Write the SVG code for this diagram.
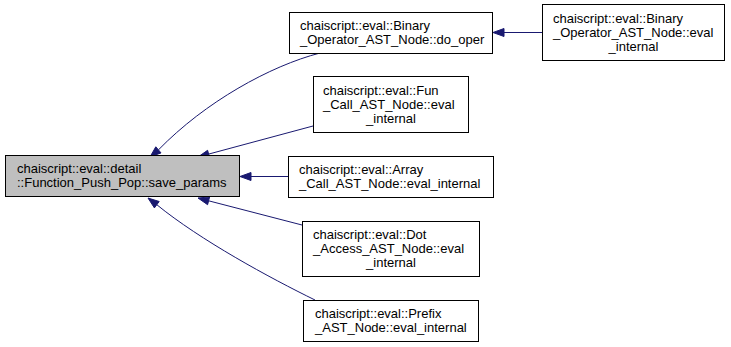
<svg xmlns="http://www.w3.org/2000/svg" width="731" height="347" viewBox="0 0 731 347">
  <style>
    .box { fill: #ffffff; stroke: #000000; stroke-width: 1; }
    .focus { fill: #bfbfbf; }
    text { font-family: "Liberation Sans", Arial, Helvetica, sans-serif; font-size: 13px; fill: #000000; }
    .mid { text-anchor: middle; }
    .edge { fill: none; stroke: #191970; stroke-width: 1; }
    .head { fill: #191970; stroke: #191970; stroke-width: 1; }
  </style>
  <rect width="731" height="347" fill="#ffffff"/>

  <!-- caller edges -->
  <g id="edges">
    <path class="edge" d="M320,53 C270,66 205,102 158.4,149.9"/>
    <polygon class="head" points="150,157 161,152.9 155.8,146.8"/>

    <path class="edge" d="M313,126 L208.6,154.1"/>
    <polygon class="head" points="198,157 209.7,158 207.6,150.3"/>

    <path class="edge" d="M288,176.5 L251,176.5"/>
    <polygon class="head" points="240,176.5 251,172.5 251,180.5"/>

    <path class="edge" d="M302,225 L208.6,200.8"/>
    <polygon class="head" points="198,198 207.6,204.7 209.6,196.9"/>

    <path class="edge" d="M315,300 C270,278 200,240 156.8,204.7"/>
    <polygon class="head" points="148,198 154.4,207.9 159.2,201.5"/>

    <path class="edge" d="M542,32.5 L504,32.5"/>
    <polygon class="head" points="493,32.5 504,28.5 504,36.5"/>
  </g>

  <g id="save_params">
    <rect class="box focus" x="5.5" y="155.5" width="234" height="41"/>
    <text x="17" y="173">chaiscript::eval::detail</text>
    <text x="17" y="187">::Function_Push_Pop::save_params</text>
  </g>

  <g id="do_oper">
    <rect class="box" x="289.5" y="12.5" width="203" height="41"/>
    <text x="300" y="30">chaiscript::eval::Binary</text>
    <text x="300" y="44">_Operator_AST_Node::do_oper</text>
  </g>

  <g id="binary_eval_internal">
    <rect class="box" x="542.5" y="4.5" width="182" height="56"/>
    <text x="553" y="23">chaiscript::eval::Binary</text>
    <text x="553" y="37">_Operator_AST_Node::eval</text>
    <text class="mid" x="633.5" y="50.5">_internal</text>
  </g>

  <g id="fun_call_eval_internal">
    <rect class="box" x="313.5" y="76.5" width="155" height="56"/>
    <text x="323" y="95">chaiscript::eval::Fun</text>
    <text x="323" y="109">_Call_AST_Node::eval</text>
    <text class="mid" x="391" y="122.5">_internal</text>
  </g>

  <g id="array_call_eval_internal">
    <rect class="box" x="288.5" y="156.5" width="205" height="41"/>
    <text x="299" y="174">chaiscript::eval::Array</text>
    <text x="299" y="188">_Call_AST_Node::eval_internal</text>
  </g>

  <g id="dot_access_eval_internal">
    <rect class="box" x="302.5" y="221.5" width="177" height="55"/>
    <text x="313" y="239">chaiscript::eval::Dot</text>
    <text x="313" y="253">_Access_AST_Node::eval</text>
    <text class="mid" x="391" y="266.5">_internal</text>
  </g>

  <g id="prefix_eval_internal">
    <rect class="box" x="303.5" y="300.5" width="175" height="41"/>
    <text x="315" y="318">chaiscript::eval::Prefix</text>
    <text x="315" y="332">_AST_Node::eval_internal</text>
  </g>
</svg>
